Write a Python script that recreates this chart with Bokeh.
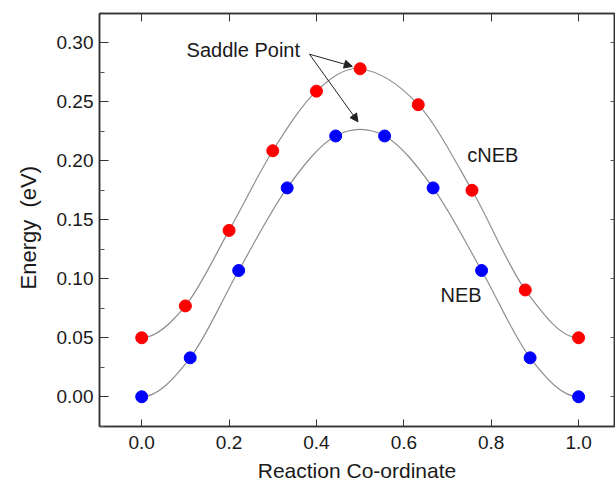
import numpy as np
from bokeh.plotting import figure
from bokeh.models import (LinearAxis, FixedTicker, Range1d, Label, Arrow, NormalHead,
                          ColumnDataSource, NumeralTickFormatter, Title)
from bokeh.embed import file_html
from bokeh.resources import INLINE

# ---- data ----
cneb_x = [0.0, 0.1, 0.2, 0.3, 0.4, 0.5, 0.633, 0.756, 0.878, 1.0]
cneb_y = [0.050, 0.077, 0.141, 0.2085, 0.259, 0.278, 0.2475, 0.175, 0.0905, 0.050]
neb_x = [0.0, 0.111, 0.222, 0.333, 0.444, 0.556, 0.667, 0.778, 0.889, 1.0]
neb_y = [0.000, 0.033, 0.107, 0.177, 0.221, 0.221, 0.177, 0.107, 0.033, 0.000]
x_ticks = [0.0, 0.2, 0.4, 0.6, 0.8, 1.0]
y_ticks = [0.00, 0.05, 0.10, 0.15, 0.20, 0.25, 0.30]
y_minor = [-0.025, 0.025, 0.075, 0.125, 0.175, 0.225, 0.275]

FONT = "Liberation Sans"
TXT = "#1a1a1a"
AX = "#333333"


def hermite_segments(xs, ys):
    """Bezier control points of a smooth curve passing through the data points."""
    xs = np.asarray(xs, float)
    ys = np.asarray(ys, float)
    m = np.zeros(len(xs))
    m[1:-1] = (ys[2:] - ys[:-2]) / (xs[2:] - xs[:-2])
    dx = np.diff(xs)
    return dict(x0=xs[:-1], y0=ys[:-1], x1=xs[1:], y1=ys[1:],
                cx0=xs[:-1] + dx / 3, cy0=ys[:-1] + m[:-1] * dx / 3,
                cx1=xs[1:] - dx / 3, cy1=ys[1:] - m[1:] * dx / 3)


p = figure(width=615, height=485,
           x_range=Range1d(-0.0966, 1.0822), y_range=Range1d(-0.0252, 0.3248),
           output_backend="svg", toolbar_location=None,
           x_axis_location=None, y_axis_location=None,
           min_border_left=98, min_border_right=1, min_border_top=13, min_border_bottom=59)
p.grid.visible = False
p.outline_line_color = AX
p.outline_line_width = 1.5
p.background_fill_color = "white"
p.border_fill_color = "white"

# bottom axis
xb = LinearAxis(ticker=FixedTicker(ticks=x_ticks), formatter=NumeralTickFormatter(format="0.0"),
                axis_label="Reaction Co-ordinate")
xb.major_tick_in = 7
xb.major_tick_out = 0
xb.minor_tick_line_color = None
xb.axis_line_color = AX
xb.axis_line_width = 1.5
xb.major_tick_line_color = AX
xb.major_label_text_font = FONT
xb.major_label_text_font_size = "19px"
xb.major_label_text_color = TXT
xb.major_label_standoff = 9
xb.axis_label_text_font = FONT
xb.axis_label_text_font_size = "21px"
xb.axis_label_text_font_style = "normal"
xb.axis_label_text_color = TXT
xb.axis_label_standoff = 7
p.add_layout(xb, "below")

# left axis
yl = LinearAxis(ticker=FixedTicker(ticks=y_ticks, minor_ticks=y_minor),
                formatter=NumeralTickFormatter(format="0.00"))
yl.major_tick_in = 9
yl.major_tick_out = 0
yl.minor_tick_in = 5
yl.minor_tick_out = 0
yl.axis_line_color = AX
yl.axis_line_width = 1.5
yl.major_tick_line_color = AX
yl.minor_tick_line_color = "#555555"
yl.major_label_text_font = FONT
yl.major_label_text_font_size = "19px"
yl.major_label_text_color = TXT
yl.major_label_standoff = 6
p.add_layout(yl, "left")

# y-axis title, placed as a side title so it can sit below the frame's centre
p.add_layout(Title(text="Energy\u00a0 (eV)", align="left", offset=137,
                   text_font=FONT, text_font_size="22px", text_font_style="normal",
                   text_color=TXT, standoff=26), "left")

# top axis (ticks only)
xt = LinearAxis(ticker=FixedTicker(ticks=x_ticks))
xt.major_tick_in = 8
xt.major_tick_out = 0
xt.minor_tick_line_color = None
xt.axis_line_color = AX
xt.axis_line_width = 1.5
xt.major_tick_line_color = AX
xt.major_label_text_color = None
xt.major_label_text_font_size = "1px"
xt.major_label_standoff = 0
p.add_layout(xt, "above")

# right axis (ticks only)
yr = LinearAxis(ticker=FixedTicker(ticks=y_ticks))
yr.major_tick_in = 4
yr.major_tick_out = 0
yr.minor_tick_line_color = None
yr.axis_line_color = AX
yr.axis_line_width = 1.5
yr.major_tick_line_color = "#555555"
yr.major_label_text_color = None
yr.major_label_text_font_size = "1px"
yr.major_label_standoff = 0
p.add_layout(yr, "right")

# smooth curves through the data
for xs, ys in ((cneb_x, cneb_y), (neb_x, neb_y)):
    src = ColumnDataSource(hermite_segments(xs, ys))
    p.bezier(x0="x0", y0="y0", x1="x1", y1="y1", cx0="cx0", cy0="cy0", cx1="cx1", cy1="cy1",
             source=src, line_color="#8f8f8f", line_width=1.2)

p.scatter(cneb_x, cneb_y, size=12, fill_color="#ff0000", line_color="#ff0000")
p.scatter(neb_x, neb_y, size=12, fill_color="#0000ff", line_color="#0000ff")

# texts
p.add_layout(Label(x=0.1028, y=0.2935, text="Saddle Point", text_align="left",
                   text_baseline="alphabetic", text_font=FONT, text_font_size="20px",
                   text_color=TXT))
p.add_layout(Label(x=0.745, y=0.2046, text="cNEB", text_align="left",
                   text_baseline="alphabetic", text_font=FONT, text_font_size="20px",
                   text_color=TXT))
p.add_layout(Label(x=0.6838, y=0.0859, text="NEB", text_align="left",
                   text_baseline="alphabetic", text_font=FONT, text_font_size="20px",
                   text_color=TXT))

# arrows to the saddle points
for xe, ye in ((0.482, 0.280), (0.495, 0.233)):
    p.add_layout(Arrow(x_start=0.384, y_start=0.2903, x_end=xe, y_end=ye,
                       line_color="#222222", line_width=1,
                       end=NormalHead(size=8, fill_color="#222222", line_color="#222222")))

open("out.html", "w").write(file_html(p, INLINE))
